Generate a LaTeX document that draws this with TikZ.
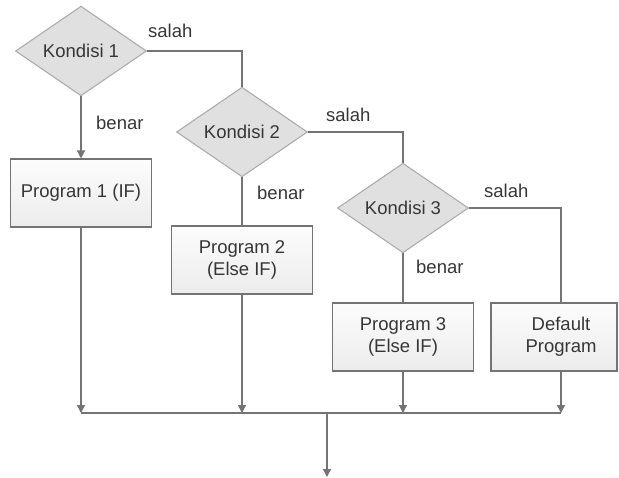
\documentclass[tikz,border=0pt]{standalone}
\usepackage{fontspec}
\setmainfont{Liberation Sans}
\usetikzlibrary{shapes.geometric,arrows.meta}

\definecolor{linegray}{HTML}{747474}
\definecolor{textgray}{HTML}{363636}

\begin{document}
\begin{tikzpicture}[x=1pt, y=-1pt, every node/.style={font=\fontsize{18.5}{22}\selectfont, text=textgray},
  cond/.style={diamond, draw=gray!65, fill=gray!24, line width=1.1pt, minimum width=131pt, minimum height=78pt, inner sep=0pt},
  prog/.style={draw=linegray, line width=1.1pt, top color=gray!2, bottom color=gray!15, align=center, minimum width=141pt, minimum height=68pt, inner sep=0pt},
  lbl/.style={anchor=west, inner sep=0pt},
  line/.style={draw=linegray, line width=1.3pt},
  arr/.style={line, -{Triangle[length=8pt, width=8pt]}}]
\useasboundingbox (0,0) rectangle (619,477);
% decisions
\node[cond] (k1) at (81,51) {Kondisi 1};
\node[cond] (k2) at (242,132) {Kondisi 2};
\node[cond] (k3) at (403,208) {Kondisi 3};
% program blocks
\node[prog] (p1) at (81,193) {Program 1 (IF)};
\node[prog] (p2) at (242,260) {Program 2\\(Else IF)};
\node[prog] (p3) at (403,337) {Program 3\\(Else IF)};
\node[prog, minimum width=126pt] (pd) at (554,337) {\hspace*{14pt}Default\\\hspace*{14pt}Program};
\coordinate (dc) at (561,337);
% branch labels
\node[lbl] (s1) at (148,31) {salah};
\node[lbl] (b1) at (96,123) {benar};
\node[lbl] (s2) at (326,115) {salah};
\node[lbl] (b2) at (257,193) {benar};
\node[lbl] (s3) at (484,191) {salah};
\node[lbl] (b3) at (416,267) {benar};
\coordinate (m) at (327,413);
\coordinate (out) at (327,477);
\draw[arr] (k1) -- (p1); \draw[line] (k2) -- (p2); \draw[line] (k3) -- (p3);
\draw[line] (k1.east) -| (k2.north); \draw[line] (k2.east) -| (k3.north); \draw[line] (k3.east) -| (dc |- pd.north);
\draw[arr] (p1) -- (p1 |- m); \draw[arr] (p2) -- (p2 |- m); \draw[arr] (p3) -- (p3 |- m); \draw[arr] (dc |- pd.south) -- (dc |- m);
\draw[line] (p1 |- m) -- (dc |- m); \draw[arr] (m) -- (out);
\end{tikzpicture}
\end{document}
